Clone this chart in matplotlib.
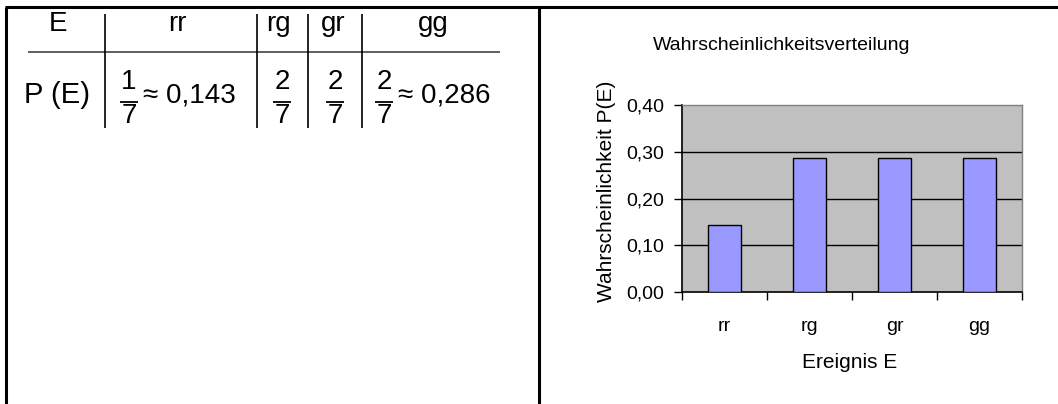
import matplotlib
matplotlib.use('Agg')
import matplotlib.pyplot as plt
from matplotlib.lines import Line2D

plt.rcParams['font.family'] = ['Liberation Sans', 'DejaVu Sans']

# ── Daten ───────────────────────────────────────────────────────────────────
ereignisse = ['rr', 'rg', 'gr', 'gg']
zaehler    = [1, 2, 2, 2]
nenner     = [7, 7, 7, 7]
naeherung  = ['≈ 0,143', '', '', '≈ 0,286']
wahrsch    = [z / n for z, n in zip(zaehler, nenner)]
y_ticks    = [0.0, 0.1, 0.2, 0.3, 0.4]
y_labels   = ['0,00', '0,10', '0,20', '0,30', '0,40']

W, H = 1058, 404
fig = plt.figure(figsize=(W / 100, H / 100), dpi=100, facecolor='white')

def px(x, y):
    return x / W, 1 - y / H

def line(x0, y0, x1, y1, lw=1.0, color='black'):
    (a, b), (c, d) = px(x0, y0), px(x1, y1)
    fig.add_artist(Line2D([a, c], [b, d], lw=lw, color=color,
                          transform=fig.transFigure, solid_capstyle='butt'))

def text(x, y, s, size, **kw):
    fx, fy = px(x, y)
    fig.text(fx, fy, s, fontsize=size, ha=kw.pop('ha', 'center'),
             va=kw.pop('va', 'center'), **kw)

# ── Rahmen ──────────────────────────────────────────────────────────────────
line(5, 7, 1058, 7, lw=2.2)
line(6, 7, 6, 404, lw=2.2)
line(539, 7, 539, 404, lw=2.2)

# ── Tabelle links ───────────────────────────────────────────────────────────
line(28, 52, 500, 52, lw=1.2, color='#444444')
for xv in (105, 257, 308, 362):
    line(xv, 14, xv, 128, lw=1.2)

kopf_x = [177, 278, 333, 433]
text(58, 24, 'E', 20)
for xc, lab in zip(kopf_x, ereignisse):
    text(xc, 24, lab, 20)

text(57, 95, 'P (E)', 21)
bruch_x = [129, 282, 335, 384]
for xb, z, n, nae in zip(bruch_x, zaehler, nenner, naeherung):
    text(xb, 82, str(z), 20)
    line(xb - 9, 102, xb + 9, 102, lw=1.3)
    text(xb, 116, str(n), 20)
    if nae:
        text(xb + 14, 96, nae, 20, ha='left')

# ── Diagramm rechts ─────────────────────────────────────────────────────────
x0, y0, x1, y1 = 682, 105, 1022, 292
ax = fig.add_axes([x0 / W, 1 - y1 / H, (x1 - x0) / W, (y1 - y0) / H])
ax.set_facecolor('#C0C0C0')
pos = range(len(ereignisse))
ax.bar(pos, wahrsch, width=0.39, color='#9999FF', edgecolor='black',
       linewidth=1.0, zorder=3)
ax.set_xlim(-0.5, len(ereignisse) - 0.5)
ax.set_ylim(0, 0.4)
ax.set_yticks(y_ticks)
ax.set_yticklabels(y_labels, fontsize=14)
for yv in y_ticks[1:-1]:
    ax.axhline(yv, color='black', lw=1.0, zorder=1)

ax.set_xticks([i - 0.5 for i in range(len(ereignisse) + 1)])
ax.set_xticklabels([])
ax.set_xticks(list(pos), minor=True)
ax.set_xticklabels(ereignisse, minor=True, fontsize=14)
ax.tick_params(axis='x', which='major', length=6, width=1.0, direction='out')
ax.tick_params(axis='x', which='minor', length=0, pad=19)
ax.tick_params(axis='y', length=6, width=1.0, direction='out', pad=7)

for s in ('left', 'bottom'):
    ax.spines[s].set_color('black')
    ax.spines[s].set_linewidth(1.2)
for s in ('top', 'right'):
    ax.spines[s].set_color('#808080')
    ax.spines[s].set_linewidth(1.0)

text(782, 46, 'Wahrscheinlichkeitsverteilung', 14)
text(606, 191, 'Wahrscheinlichkeit P(E)', 15, rotation=90)
text(850, 362, 'Ereignis E', 15)

fig.savefig('out.png', dpi=100, facecolor='white')
